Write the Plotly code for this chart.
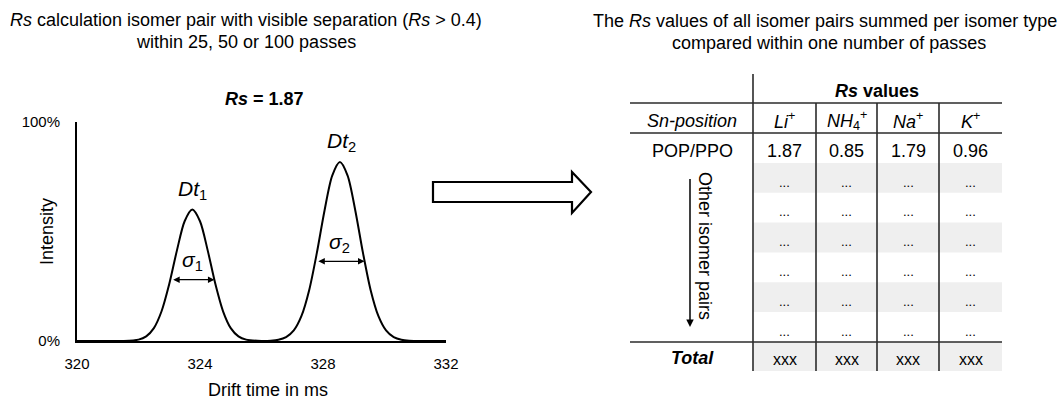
import plotly.graph_objects as go

W, H = 1058, 399
FONT = "Liberation Sans, Arial, sans-serif"

# ---------------- data ----------------
drift_time = [320.0, 321.0, 321.5, 322.0, 322.25, 322.5, 322.75, 323.0, 323.25, 323.5,
              323.75, 324.0, 324.25, 324.5, 324.75, 325.0, 325.25, 325.5, 326.0, 326.3,
              326.55, 326.8, 327.05, 327.3, 327.55, 327.8, 328.05, 328.3, 328.55, 328.8,
              329.05, 329.3, 329.55, 329.8, 330.05, 330.3, 330.55, 330.8, 331.3, 332.0]
intensity = [0, 0, 0.03, 0.63, 2.12, 5.89, 13.57, 26.0, 41.38, 54.68,
             60.0, 54.68, 41.38, 26.0, 13.57, 5.89, 2.12, 0.63, 0.05, 0.14,
             0.53, 1.73, 4.80, 11.42, 23.18, 40.22, 59.62, 75.51, 81.7, 75.51,
             59.62, 40.22, 23.18, 11.42, 4.80, 1.73, 0.53, 0.14, 0.01, 0]

x_ticks = [320, 324, 328, 332]
y_ticks = [0, 100]
y_tick_labels = ["0%", "100%"]

peak_times = [323.75, 328.6]          # Dt1, Dt2
peak_heights = [60.0, 81.7]
sigma_left = [323.03, 327.75]
sigma_right = [324.47, 329.35]
sigma_level = [28.0, 36.4]
rs_value = 1.87

ion_headers = ["<i>Li</i><sup>+</sup>", "<i>NH</i><sub>4</sub><sup>+</sup>",
               "<i>Na</i><sup>+</sup>", "<i>K</i><sup>+</sup>"]
pair_label = "POP/PPO"
pop_ppo_rs = [1.87, 0.85, 1.79, 0.96]
n_other_rows = 6
totals = ["xxx", "xxx", "xxx", "xxx"]


def px(x):
    return x / W


def py(y):
    return 1 - y / H


fig = go.Figure()
fig.add_trace(go.Scatter(x=drift_time, y=intensity, mode="lines",
                         line=dict(color="black", width=2, shape="spline", smoothing=0.8),
                         hoverinfo="skip", showlegend=False))

annotations = []
shapes = []

# titles
annotations += [
    dict(x=px(246), y=py(20), text="<i>Rs</i> calculation isomer pair with visible separation (<i>Rs</i> &gt; 0.4)"),
    dict(x=px(246), y=py(42), text="within 25, 50 or 100 passes"),
    dict(x=px(825), y=py(21), text="The <i>Rs</i> values of all isomer pairs summed per isomer type"),
    dict(x=px(829), y=py(43), text="compared within one number of passes"),
    dict(x=px(264), y=py(99), text=f"<b><i>Rs</i> = {rs_value:.2f}</b>"),
    dict(x=px(268), y=py(390), text="Drift time in ms"),
    dict(x=px(47), y=py(232), text="Intensity", textangle=-90),
]
for a in annotations:
    a.update(xref="paper", yref="paper", showarrow=False, xanchor="center", yanchor="middle",
             font=dict(size=18, family=FONT, color="black"))

# peak labels and sigma arrows (data coordinates)
for i, (t, h) in enumerate(zip(peak_times, peak_heights)):
    annotations.append(dict(x=t, y=h + 9, xref="x", yref="y", showarrow=False,
                            text=f"<i>Dt</i><sub>{i+1}</sub>", xanchor="center", yanchor="middle",
                            font=dict(size=21, family=FONT, color="black")))
for i in range(2):
    annotations.append(dict(x=sigma_right[i], y=sigma_level[i], ax=sigma_left[i], ay=sigma_level[i],
                            xref="x", yref="y", axref="x", ayref="y", text=" ", showarrow=True,
                            arrowhead=2, arrowside="end+start", arrowsize=1, arrowwidth=1.3,
                            arrowcolor="black", font=dict(size=10, family=FONT)))
    annotations.append(dict(x=(sigma_left[i] + sigma_right[i]) / 2, y=sigma_level[i] + 8.5,
                            xref="x", yref="y", showarrow=False,
                            text=f"<i>σ</i><sub>{i+1}</sub>", xanchor="center", yanchor="middle",
                            font=dict(size=21, family=FONT, color="black")))

# big hollow arrow
pts = [(433, 182), (572, 182), (572, 172), (591, 192), (572, 213), (572, 202), (433, 202)]
path = "M " + " L ".join(f"{px(a):.5f},{py(b):.5f}" for a, b in pts) + " Z"
shapes.append(dict(type="path", xref="paper", yref="paper", path=path,
                   line=dict(color="black", width=2.2), fillcolor="white"))

# ---------------- table ----------------
col_edges = [753, 816, 877, 939, 1002]
col_centers = [(col_edges[i] + col_edges[i + 1]) / 2 for i in range(4)]
left_center = 692
row_top = 163
row_h = 29.8
total_top, total_bot = 342, 371
gray = "#efefef"
line_col = "#2b2b2b"

for r in range(n_other_rows):
    if r % 2 == 0:
        y0 = row_top + r * row_h
        shapes.append(dict(type="rect", xref="paper", yref="paper", x0=px(753), x1=px(1002),
                           y0=py(y0), y1=py(y0 + row_h), line=dict(width=0), fillcolor=gray,
                           layer="below"))
shapes.append(dict(type="rect", xref="paper", yref="paper", x0=px(753), x1=px(1002),
                   y0=py(total_top), y1=py(total_bot), line=dict(width=0), fillcolor=gray,
                   layer="below"))

for yy in [103, 133, 342]:
    shapes.append(dict(type="line", xref="paper", yref="paper", x0=px(630), x1=px(1002),
                       y0=py(yy), y1=py(yy), line=dict(color=line_col, width=1.6)))
shapes.append(dict(type="line", xref="paper", yref="paper", x0=px(753), x1=px(753),
                   y0=py(74), y1=py(371), line=dict(color=line_col, width=1.6)))
for xx in col_edges[1:4]:
    shapes.append(dict(type="line", xref="paper", yref="paper", x0=px(xx), x1=px(xx),
                       y0=py(103), y1=py(371), line=dict(color=line_col, width=1.6)))

def tbl(x, y, text, size=18, angle=0):
    annotations.append(dict(x=px(x), y=py(y), xref="paper", yref="paper", text=text,
                            showarrow=False, xanchor="center", yanchor="middle", textangle=angle,
                            font=dict(size=size, family=FONT, color="black")))

tbl(877, 91, "<b><i>Rs</i> values</b>")
tbl(left_center, 121, "<i>Sn-position</i>")
for c, h in zip(col_centers, ion_headers):
    tbl(c, 121, h)
tbl(left_center, 151, pair_label)
for c, v in zip(col_centers, pop_ppo_rs):
    tbl(c, 151, f"{v:.2f}")
for r in range(n_other_rows):
    for c in col_centers:
        tbl(c, row_top + r * row_h + 19, "...", size=13)
tbl(left_center, 358, "<b><i>Total</i></b>")
for c, t in zip(col_centers, totals):
    tbl(c, 359, t, size=16)

tbl(705, 246, "Other isomer pairs", angle=90)
annotations.append(dict(x=px(690), y=py(327), ax=0, ay=-155, xref="paper", yref="paper",
                        text=" ", showarrow=True, arrowhead=2, arrowsize=1, arrowwidth=1.5,
                        arrowcolor="black", font=dict(size=10, family=FONT)))

fig.update_layout(
    width=W, height=H, margin=dict(l=0, r=0, t=0, b=0, autoexpand=False),
    paper_bgcolor="white", plot_bgcolor="white",
    font=dict(family=FONT, color="black"),
    annotations=annotations, shapes=shapes, showlegend=False,
    xaxis=dict(domain=[px(77), px(446)], range=[320, 332], tickvals=x_ticks, automargin=False,
               showline=True, linecolor="black", linewidth=2, showgrid=False, zeroline=False,
               ticks="", ticklabelstandoff=8, tickfont=dict(size=15, family=FONT, color="black"),
               fixedrange=True),
    yaxis=dict(domain=[py(341), py(122)], range=[0, 100], tickvals=y_ticks, ticktext=y_tick_labels,
               automargin=False,
               showline=True, linecolor="black", linewidth=2, showgrid=False, zeroline=False,
               ticks="", ticklabelstandoff=12, tickfont=dict(size=15, family=FONT, color="black"),
               fixedrange=True),
)

fig.write_html("out.html")
